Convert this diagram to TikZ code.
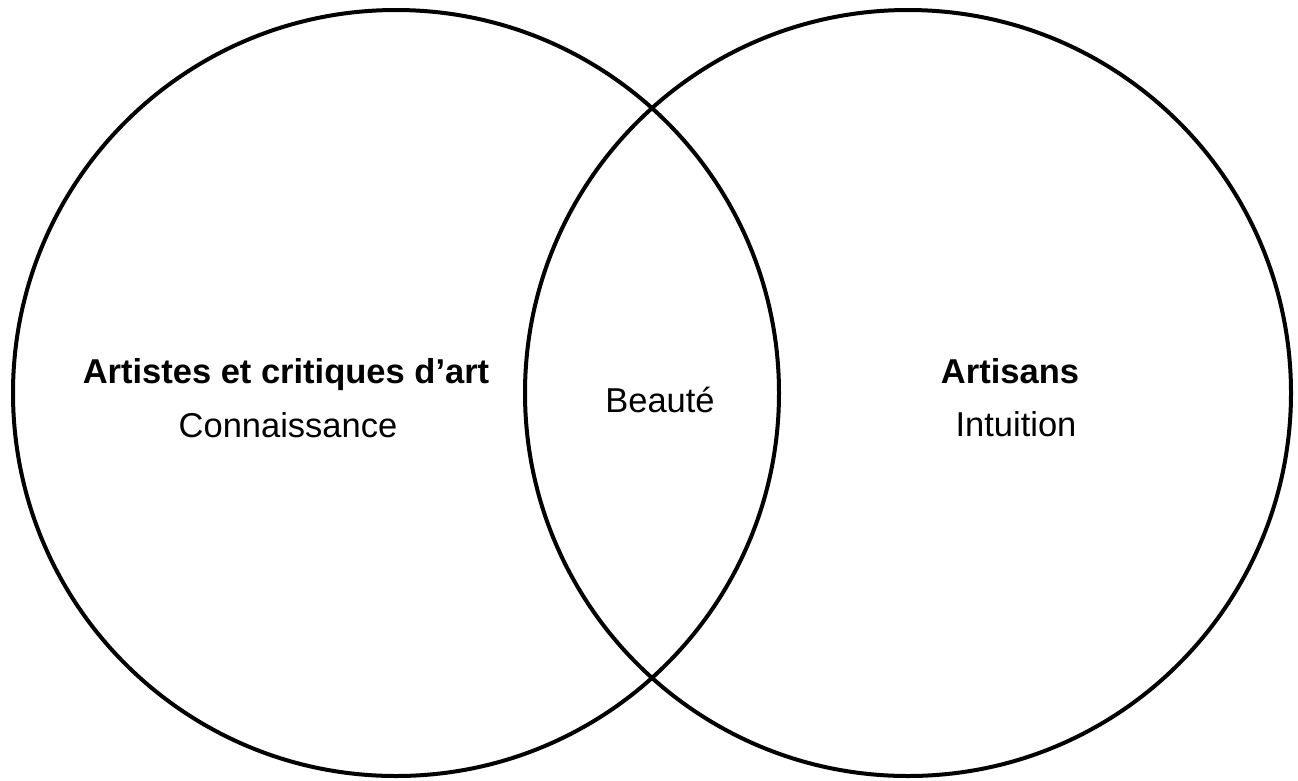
\documentclass[tikz,border=0pt]{standalone}
\usepackage{fontspec}
\setmainfont{Liberation Sans}
\begin{document}
\begin{tikzpicture}[x=1pt,y=-1pt,
  ring/.style={draw=black,line width=4pt},
  lbl/.style={anchor=base,inner sep=0pt,font=\fontsize{34.5}{41}\selectfont},
  blbl/.style={lbl,font=\fontsize{34.5}{41}\selectfont\bfseries}]
\useasboundingbox[fill=white] (0,0) rectangle (1298,780);
\node[ring,circle,minimum size=766pt,inner sep=0pt] (left) at (396,393) {};
\node[ring,circle,minimum size=766pt,inner sep=0pt] (right) at (908,393) {};
\node[blbl] (lt) at (286,383) {Artistes et critiques d’art};
\node[lbl] (ls) at (288,437) {Connaissance};
\node[lbl] (mid) at (660,412) {Beauté};
\node[blbl] (rt) at (1010,383) {Artisans};
\node[lbl] (rs) at (1016,436) {Intuition};
\end{tikzpicture}
\end{document}
